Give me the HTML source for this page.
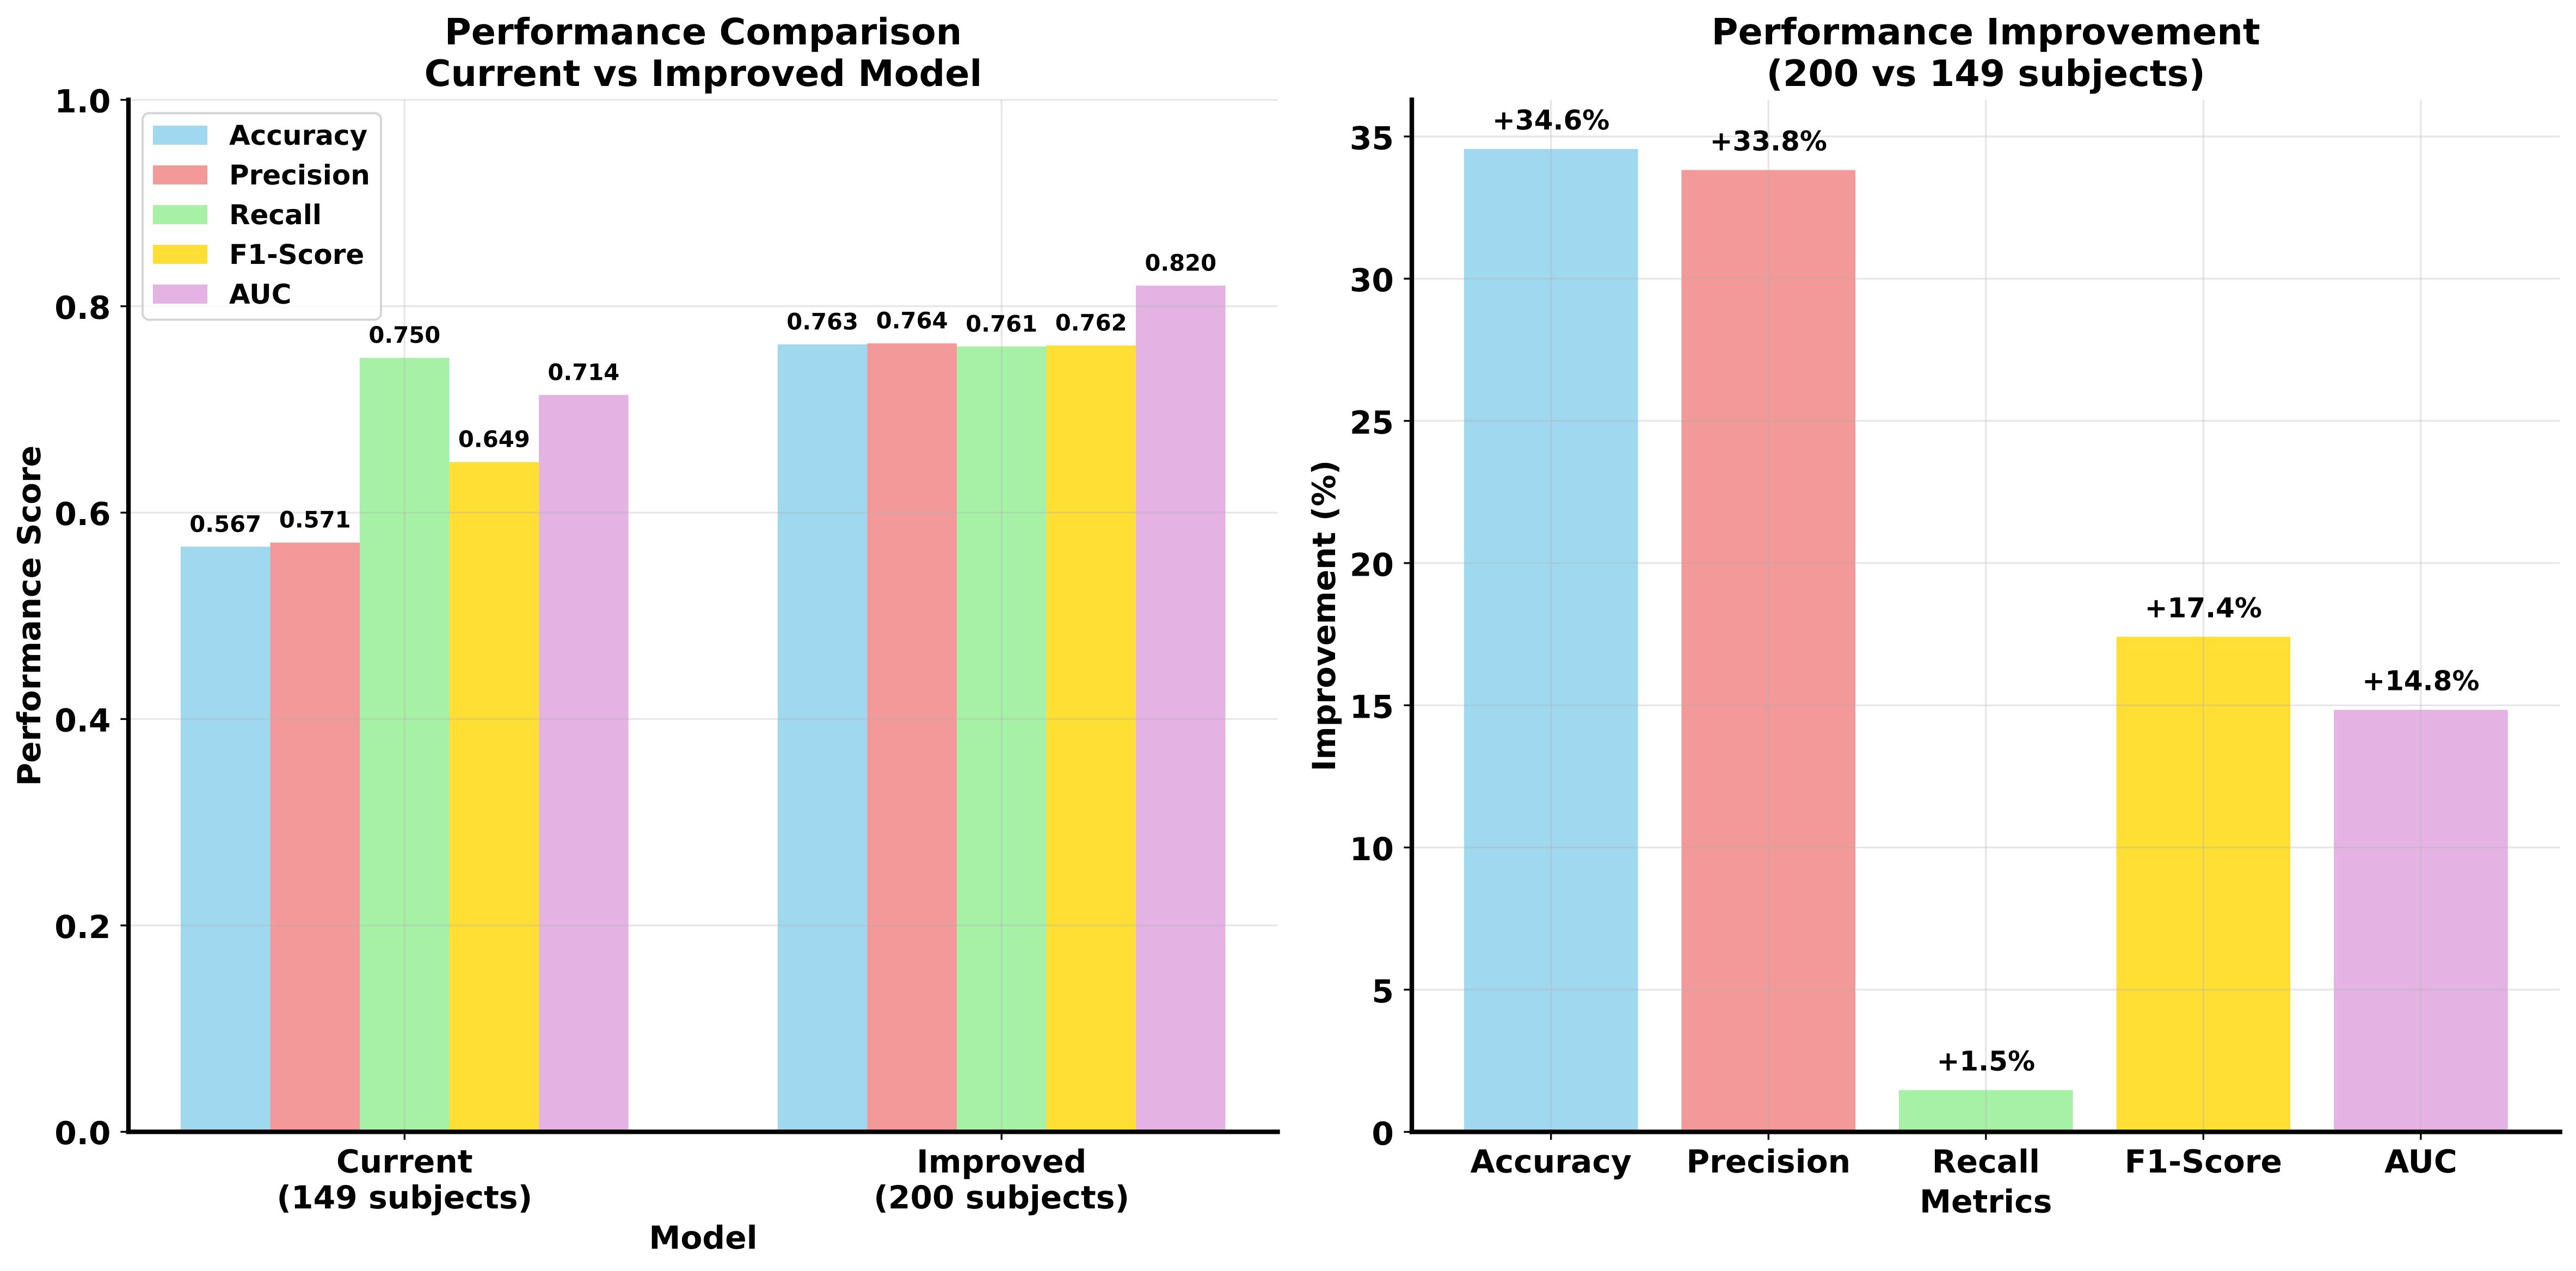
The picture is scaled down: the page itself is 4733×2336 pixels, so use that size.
<!DOCTYPE html>
<html lang="en">
<head>
<meta charset="utf-8">
<title>Performance Comparison and Improvement</title>
<style>
  html, body { margin: 0; padding: 0; background: #fff; }
  svg { display: block; }
  text { font-family: "DejaVu Sans", "Liberation Sans", sans-serif; font-weight: 700; fill: #000; text-rendering: geometricPrecision; }
</style>
</head>
<body>
<svg id="figure" xmlns="http://www.w3.org/2000/svg" width="4733" height="2336" viewBox="0 0 4733 2336">
  <rect x="0" y="0" width="4733" height="2336" fill="#ffffff"/>
  <g id="left-panel">
    <text x="1292" y="81.6" font-size="66.7" text-anchor="middle">Performance Comparison</text>
    <text x="1292" y="158" font-size="66.7" text-anchor="middle">Current vs Improved Model</text>
    <text transform="translate(74 1131.7) rotate(-90)" font-size="58.3" text-anchor="middle">Performance Score</text>
    <text x="1292" y="2295" font-size="58.3" text-anchor="middle">Model</text>
  </g>
  <g id="right-panel">
    <text x="3648.7" y="81.6" font-size="66.7" text-anchor="middle">Performance Improvement</text>
    <text x="3648.7" y="158" font-size="66.7" text-anchor="middle">(200 vs 149 subjects)</text>
    <text transform="translate(2453 1131.7) rotate(-90)" font-size="58.3" text-anchor="middle">Improvement (%)</text>
    <text x="3648.7" y="2228.3" font-size="58.3" text-anchor="middle">Metrics</text>
  </g>
</svg>
<script>
// Chart data
const metricNames = ['Accuracy', 'Precision', 'Recall', 'F1-Score', 'AUC'];
const modelLines = [['Current', '(149 subjects)'], ['Improved', '(200 subjects)']];
const currentScores = [0.567, 0.571, 0.750, 0.649, 0.714];
const improvedScores = [0.763, 0.764, 0.761, 0.762, 0.820];
const improvementPct = [34.56, 33.82, 1.47, 17.41, 14.84];
const scoreTicks = [0, 0.2, 0.4, 0.6, 0.8, 1.0];
const pctTicks = [0, 5, 10, 15, 20, 25, 30, 35];
const palette = ['#87CEEB', '#F08080', '#90EE90', '#FFD700', '#DDA0DD'];

const NS = 'http://www.w3.org/2000/svg';
const leftPanel = document.getElementById('left-panel');
const rightPanel = document.getElementById('right-panel');

function linear(d0, d1, r0, r1) {
  return function (v) { return r0 + (v - d0) * (r1 - r0) / (d1 - d0); };
}
const leftBox = { l: 236, r: 2347.5, t: 183.5, b: 2080.2 };
const rightBox = { l: 2594, r: 4703.6, t: 183.4, b: 2080.3 };
const xLeft = linear(-0.4625, 1.4625, leftBox.l, leftBox.r);
const yLeft = linear(0, 1, leftBox.b, leftBox.t);
const xRight = linear(-0.64, 4.64, rightBox.l, rightBox.r);
const yRight = linear(0, 36.29, rightBox.b, rightBox.t);

function rect(parent, x, y, w, h, color) {
  const el = document.createElementNS(NS, 'rect');
  el.setAttribute('x', x);
  el.setAttribute('y', y);
  el.setAttribute('width', w);
  el.setAttribute('height', h);
  el.setAttribute('fill', color);
  el.setAttribute('fill-opacity', '0.8');
  parent.appendChild(el);
  return el;
}
function line(parent, x1, y1, x2, y2, color, width, opacity, cap) {
  const el = document.createElementNS(NS, 'line');
  el.setAttribute('x1', x1);
  el.setAttribute('y1', y1);
  el.setAttribute('x2', x2);
  el.setAttribute('y2', y2);
  el.setAttribute('stroke', color);
  el.setAttribute('stroke-width', width);
  el.setAttribute('stroke-opacity', opacity);
  el.setAttribute('stroke-linecap', cap || 'butt');
  parent.appendChild(el);
  return el;
}
function label(parent, x, y, size, anchor, content) {
  const el = document.createElementNS(NS, 'text');
  el.setAttribute('x', x);
  el.setAttribute('y', y);
  el.setAttribute('font-size', size);
  el.setAttribute('text-anchor', anchor);
  el.textContent = content;
  parent.appendChild(el);
  return el;
}

// ---------- Left panel: grouped bars ----------
const barWidth = 0.15;
[currentScores, improvedScores].forEach(function (scores, g) {
  scores.forEach(function (value, i) {
    const x0 = xLeft(g + (i - 2) * barWidth - barWidth / 2);
    const x1 = xLeft(g + (i - 2) * barWidth + barWidth / 2);
    const top = yLeft(value);
    const bar = rect(leftPanel, x0, top, x1 - x0, yLeft(0) - top, palette[i]);
    
    
  });
});

// Left grid (drawn above bars)
scoreTicks.forEach(function (t) {
  const grid = line(leftPanel, leftBox.l, yLeft(t), leftBox.r, yLeft(t), '#b0b0b0', 3.33, 0.3);
  
  
});
modelLines.forEach(function (lines, g) {
  const grid = line(leftPanel, xLeft(g), leftBox.t, xLeft(g), leftBox.b, '#b0b0b0', 3.33, 0.3);
  
  
});

// Left value labels
[currentScores, improvedScores].forEach(function (scores, g) {
  scores.forEach(function (value, i) {
    const txt = label(leftPanel, xLeft(g + (i - 2) * barWidth), yLeft(value) - 27.5, 41.7, 'middle', value.toFixed(3));
    
    
  });
});

// Left ticks and tick labels
scoreTicks.forEach(function (t) {
  const tick = line(leftPanel, leftBox.l - 14.6, yLeft(t), leftBox.l, yLeft(t), '#000', 3.33, 1);
  
  
  const txt = label(leftPanel, 203.5, yLeft(t) + 23, 58.3, 'end', t.toFixed(1));
  
  
});
modelLines.forEach(function (lines, g) {
  const tick = line(leftPanel, xLeft(g), leftBox.b, xLeft(g), leftBox.b + 14.6, '#000', 3.33, 1);
  
  
  const first = label(leftPanel, xLeft(g), 2155, 58.3, 'middle', lines[0]);
  
  
  const second = label(leftPanel, xLeft(g), 2221, 58.3, 'middle', lines[1]);
  
  
});

// Left spines
const leftSpineY = line(leftPanel, leftBox.l, leftBox.t, leftBox.l, leftBox.b, '#000', 8.33, 1, 'square');


const leftSpineX = line(leftPanel, leftBox.l, leftBox.b, leftBox.r, leftBox.b, '#000', 8.33, 1, 'square');



// Legend
const legend = document.createElementNS(NS, 'g');


leftPanel.appendChild(legend);
const frame = document.createElementNS(NS, 'rect');
frame.setAttribute('x', 262);
frame.setAttribute('y', 208);
frame.setAttribute('width', 438);
frame.setAttribute('height', 379.6);
frame.setAttribute('rx', 12);
frame.setAttribute('fill', '#ffffff');
frame.setAttribute('fill-opacity', '0.8');
frame.setAttribute('stroke', '#cccccc');
frame.setAttribute('stroke-opacity', '0.8');
frame.setAttribute('stroke-width', '4.17');


legend.appendChild(frame);
metricNames.forEach(function (name, i) {
  const swatch = rect(legend, 281, 231 + i * 73, 100, 35, palette[i]);
  
  
  const txt = label(legend, 421, 266 + i * 73, 50, 'start', name);
  
  
});

// ---------- Right panel: improvement bars ----------
const wideBar = 0.8;
improvementPct.forEach(function (value, i) {
  const x0 = xRight(i - wideBar / 2);
  const x1 = xRight(i + wideBar / 2);
  const top = yRight(value);
  const bar = rect(rightPanel, x0, top, x1 - x0, yRight(0) - top, palette[i]);
  
  
});

// Right grid (drawn above bars)
pctTicks.forEach(function (t) {
  const grid = line(rightPanel, rightBox.l, yRight(t), rightBox.r, yRight(t), '#b0b0b0', 3.33, 0.3);
  
  
});
metricNames.forEach(function (name, i) {
  const grid = line(rightPanel, xRight(i), rightBox.t, xRight(i), rightBox.b, '#b0b0b0', 3.33, 0.3);
  
  
});

// Right value labels
improvementPct.forEach(function (value, i) {
  const txt = label(rightPanel, xRight(i), yRight(value) - 36, 50, 'middle', '+' + value.toFixed(1) + '%');
  
  
});

// Right ticks and tick labels
pctTicks.forEach(function (t) {
  const tick = line(rightPanel, rightBox.l - 14.6, yRight(t), rightBox.l, yRight(t), '#000', 3.33, 1);
  
  
  const txt = label(rightPanel, 2561, yRight(t) + 23.5, 58.3, 'end', String(t));
  
  
});
metricNames.forEach(function (name, i) {
  const tick = line(rightPanel, xRight(i), rightBox.b, xRight(i), rightBox.b + 14.6, '#000', 3.33, 1);
  
  
  const txt = label(rightPanel, xRight(i), 2155, 58.3, 'middle', name);
  
  
});

// Right spines
const rightSpineY = line(rightPanel, rightBox.l, rightBox.t, rightBox.l, rightBox.b, '#000', 8.33, 1, 'square');


const rightSpineX = line(rightPanel, rightBox.l, rightBox.b, rightBox.r, rightBox.b, '#000', 8.33, 1, 'square');


</script>
</body>
</html>
